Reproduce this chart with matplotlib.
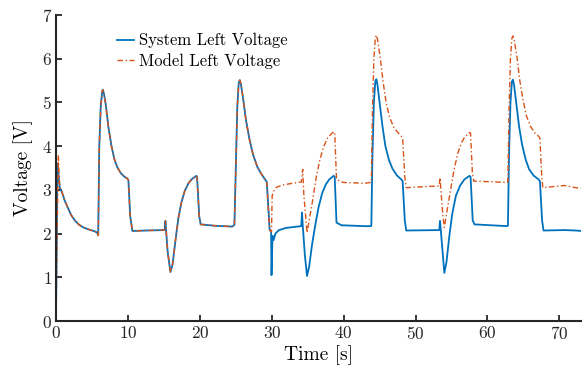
import numpy as np
import matplotlib
matplotlib.use('Agg')
import matplotlib.pyplot as plt

plt.rcParams['font.family'] = ['cmr10', 'DejaVu Serif']
plt.rcParams['mathtext.fontset'] = 'cm'
plt.rcParams['axes.formatter.use_mathtext'] = True

# first 30 s: both curves lie on top of each other
t_common = [0.0, 0.18, 0.3, 0.5, 0.8, 1.2, 1.6, 2.1, 2.6, 3.2, 3.8, 4.6, 5.4, 5.7, 5.85,
            6.0, 6.2, 6.4, 6.5, 6.65, 6.9, 7.3, 7.7, 8.1, 8.5, 9.0, 9.5, 9.9, 10.05, 10.3, 10.6,
            12.5, 15.1, 15.2, 15.3, 15.5, 15.9, 16.2, 16.6, 17.0, 17.4, 17.9, 18.4, 18.9,
            19.5, 19.6, 19.9, 20.1, 22.0, 24.5, 24.8, 25.0, 25.2, 25.4, 25.55, 25.7, 26.0,
            26.4, 26.9, 27.4, 28.0, 28.6, 29.1, 29.3, 29.7]
v_common = [0.5, 3.6, 3.4, 3.05, 2.95, 2.75, 2.6, 2.42, 2.3, 2.2, 2.14, 2.09, 2.05, 2.02, 1.96,
            4.0, 4.9, 5.25, 5.29, 5.2, 4.95, 4.4, 4.0, 3.7, 3.52, 3.38, 3.3, 3.26, 3.22, 2.4, 2.06,
            2.07, 2.08, 2.29, 2.05, 1.6, 1.12, 1.3, 1.85, 2.35, 2.7, 2.98, 3.15, 3.25,
            3.32, 3.3, 2.4, 2.21, 2.18, 2.16, 2.2, 3.5, 4.9, 5.45, 5.51, 5.42, 5.1,
            4.6, 4.15, 3.8, 3.52, 3.35, 3.23, 3.18, 2.08]
# model spike at the very start
t_spike = [0.0, 0.3, 0.5]
v_spike = [0.5, 3.78, 3.05]

t_sys = [29.9, 29.96, 30.1, 30.25, 30.5, 31.0, 32.0, 34.1, 34.2, 34.3, 34.6, 34.9, 35.2, 35.6,
         36.0, 36.5, 37.0, 37.5, 38.0, 38.6, 38.75, 39.0, 39.7, 42.9, 43.8,
         43.85, 44.0, 44.2, 44.4, 44.55, 44.7, 45.0, 45.4, 45.8, 46.3, 46.8, 47.4, 48.0, 48.2,
         48.5, 48.7, 53.3, 53.4, 53.5, 53.8, 54.0, 54.3, 54.7, 55.1, 55.6, 56.2, 56.8, 57.5,
         57.65, 57.95, 58.2, 62.8, 62.85, 63.0, 63.2, 63.4, 63.55, 63.7, 64.0, 64.4, 64.8,
         65.3, 65.8, 66.4, 67.1, 67.3, 67.6, 67.8, 70.7, 72.3, 73.0]
v_sys = [2.05, 1.05, 1.95, 1.85, 2.0, 2.08, 2.13, 2.17, 2.48, 2.2, 1.5, 1.03, 1.25, 1.75,
         2.15, 2.6, 2.92, 3.12, 3.24, 3.32, 3.3, 2.25, 2.19, 2.17, 2.17,
         2.2, 3.8, 5.0, 5.48, 5.53, 5.4, 5.0, 4.45, 4.0, 3.68, 3.48, 3.33, 3.24, 3.2,
         2.3, 2.07, 2.08, 2.29, 2.1, 1.5, 1.1, 1.35, 1.95, 2.45, 2.86, 3.1, 3.24, 3.32,
         3.3, 2.3, 2.21, 2.17, 2.2, 3.8, 5.0, 5.48, 5.52, 5.4, 5.0, 4.45, 4.05,
         3.7, 3.47, 3.33, 3.24, 3.2, 2.3, 2.07, 2.08, 2.07, 2.06]

t_mod = [29.96, 30.05, 30.3, 30.65, 31.5, 32.5, 34.1, 34.3, 34.45, 34.9, 35.2, 35.7, 36.2,
         36.7, 37.2, 37.8, 38.6, 38.75, 39.0, 39.9, 42.9, 43.8,
         43.85, 44.0, 44.2, 44.4, 44.55, 44.7, 45.1, 45.5, 45.9, 46.4, 47.0, 47.6, 48.0, 48.2,
         48.5, 48.7, 53.3, 53.4, 53.5, 53.8, 54.0, 54.3, 54.96, 55.4, 55.9, 56.4, 56.8, 57.5,
         57.65, 57.9, 58.1, 62.8, 62.85, 63.0, 63.2, 63.4, 63.55, 63.7, 64.1, 64.5, 64.9,
         65.4, 66.0, 66.6, 67.1, 67.3, 67.55, 67.7, 70.7, 72.3, 73.0]
v_mod = [2.04, 2.86, 2.98, 3.06, 3.11, 3.14, 3.18, 3.47, 2.9, 2.02, 2.3, 2.78, 3.3,
         3.7, 3.98, 4.2, 4.33, 4.32, 3.24, 3.17, 3.15, 3.17,
         3.25, 4.8, 6.0, 6.48, 6.54, 6.45, 6.0, 5.45, 5.0, 4.65, 4.42, 4.3, 4.23, 4.18,
         3.3, 3.05, 3.09, 3.28, 3.05, 2.4, 2.14, 2.45, 3.09, 3.5, 3.85, 4.08, 4.2, 4.31,
         4.3, 3.4, 3.2, 3.17, 3.25, 4.8, 6.0, 6.47, 6.52, 6.45, 6.05, 5.5, 5.1,
         4.7, 4.45, 4.3, 4.23, 4.18, 3.3, 3.05, 3.1, 3.05, 3.04]

sys_t = np.concatenate([t_common, t_sys])
sys_v = np.concatenate([v_common, v_sys])
mod_t = np.concatenate([t_spike, t_common[3:], t_mod])
mod_v = np.concatenate([v_spike, v_common[3:], v_mod])

fig = plt.figure(figsize=(5.85, 3.75), dpi=100)
ax = fig.add_axes([0.096, 0.144, 0.897, 0.816])
ax.plot(sys_t, sys_v, '-', color='#0072BD', lw=1.3, label='System Left Voltage')
ax.plot(mod_t, mod_v, color='#D95319', lw=1.0, ls=(0, (4, 1.8, 1, 1.8)), label='Model Left Voltage')

ax.set_xlim(0, 73)
ax.set_ylim(0, 7)
ax.set_xticks(range(0, 71, 10))
ax.set_yticks(range(0, 8))
for s in ['top', 'right']:
    ax.spines[s].set_visible(False)
for s in ['left', 'bottom']:
    ax.spines[s].set_linewidth(1.5)
    ax.spines[s].set_color('#262626')
ax.tick_params(direction='in', length=4, width=1.3, labelsize=12.5, colors='#262626', pad=3)
ax.set_xlabel('Time [s]', fontsize=14, labelpad=2)
ax.set_ylabel('Voltage [V]', fontsize=14, labelpad=6)
ax.legend(loc='upper left', bbox_to_anchor=(0.088, 0.99), frameon=False, fontsize=12,
          handlelength=1.0, handletextpad=0.3, labelspacing=0.3)

fig.savefig('out.png', dpi=100)
